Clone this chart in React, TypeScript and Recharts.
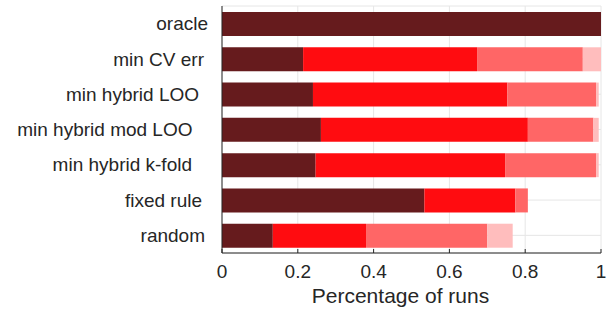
import { BarChart, Bar, XAxis, YAxis, CartesianGrid } from "recharts";

const categories = [
  "oracle",
  "min CV err",
  "min hybrid LOO",
  "min hybrid mod LOO",
  "min hybrid k-fold",
  "fixed rule",
  "random",
];

// share of runs per rank bucket (darkest = best)
const rank1 = [1.0, 0.214, 0.24, 0.261, 0.247, 0.534, 0.134];
const rank2 = [0, 0.459, 0.513, 0.546, 0.5, 0.24, 0.246];
const rank3 = [0, 0.279, 0.234, 0.173, 0.24, 0.033, 0.32];
const rank4 = [0, 0.048, 0.007, 0.014, 0.007, 0, 0.067];

const xTicks = [0, 0.2, 0.4, 0.6, 0.8, 1];

const rows = categories.map((name, i) => ({
  name,
  r1: rank1[i],
  r2: rank2[i],
  r3: rank3[i],
  r4: rank4[i],
}));

// the original labels don't share one right edge
const labelInset = [0, 4, 9, 15.5, 16, 6, 3];

const ink = "#262626";
const font = "'Liberation Sans', Arial, sans-serif";

function CategoryTick(props: any) {
  const { x, y, payload, index } = props;
  return (
    <text
      x={x - (labelInset[index] ?? 0)}
      y={y}
      dy="0.35em"
      textAnchor="end"
      fontSize={19}
      fontFamily={font}
      fill={ink}
    >
      {payload.value}
    </text>
  );
}

export default function App() {
  return (
    <div style={{ position: "absolute", left: 0, top: 0, fontFamily: font }}>
      <BarChart
        width={611}
        height={313}
        data={rows}
        layout="vertical"
        barSize={24}
        margin={{ top: 6, right: 10, bottom: 0, left: 0 }}
      >
        <CartesianGrid stroke="#e6e6e6" />
        <XAxis
          type="number"
          domain={[0, 1]}
          ticks={xTicks}
          allowDataOverflow
          height={60}
          stroke={ink}
          tickSize={-4}
          tickMargin={16}
          tick={{ fontSize: 19, fill: ink, fontFamily: font }}
          tickFormatter={(v: number) => String(v)}
          label={{
            value: "Percentage of runs",
            position: "insideBottom",
            offset: 10,
            dx: -11,
            fontSize: 21,
            fill: ink,
            fontFamily: font,
          }}
        />
        <XAxis
          xAxisId="top"
          orientation="top"
          type="number"
          domain={[0, 1]}
          ticks={xTicks}
          allowDataOverflow
          height={0}
          stroke={ink}
          tickSize={-4}
          tickFormatter={() => ""}
        />
        <YAxis
          type="category"
          dataKey="name"
          width={222}
          stroke={ink}
          tickLine={false}
          tickMargin={8}
          tick={<CategoryTick />}
          interval={0}
        />
        <YAxis
          yAxisId="right"
          orientation="right"
          type="category"
          dataKey="name"
          width={0}
          stroke={ink}
          tickLine={false}
          tick={false}
        />
        <Bar dataKey="r1" stackId="s" fill="#661b1d" isAnimationActive={false} />
        <Bar dataKey="r2" stackId="s" fill="#ff0c10" isAnimationActive={false} />
        <Bar dataKey="r3" stackId="s" fill="#ff6666" isAnimationActive={false} />
        <Bar dataKey="r4" stackId="s" fill="#ffbdbd" isAnimationActive={false} />
      </BarChart>
    </div>
  );
}
